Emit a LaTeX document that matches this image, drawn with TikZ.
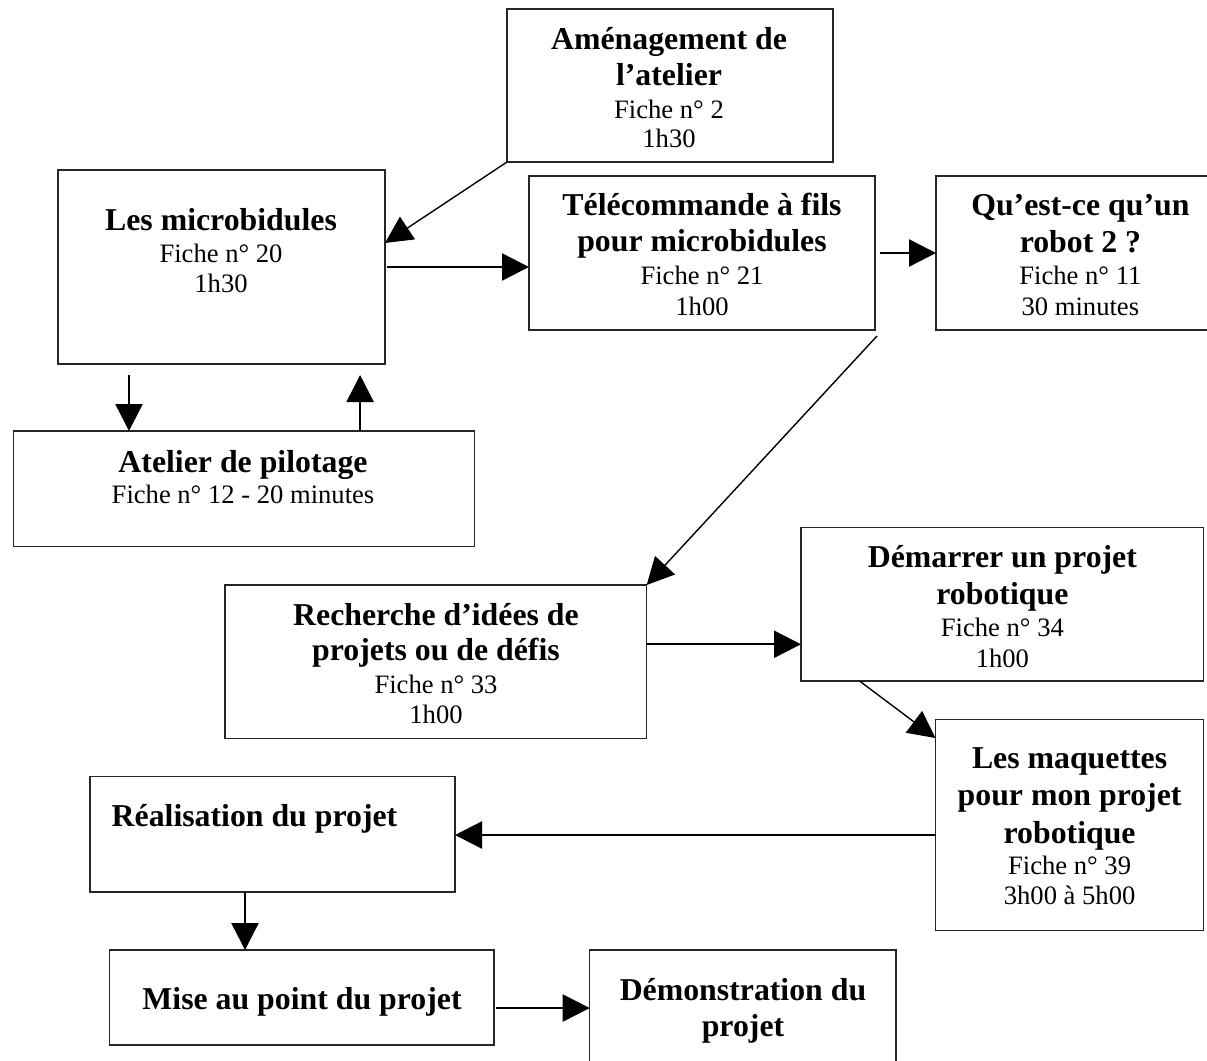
\documentclass[tikz,border=0pt]{standalone}
\usepackage{fontspec}
\setmainfont{Liberation Serif}
\usetikzlibrary{arrows.meta,calc}

% one centred line of bold title text (first line of a block)
\newcommand\tB[1]{\hbox to 0pt{\hss\fontsize{31.8}{37}\selectfont\bfseries #1\hss}}
% further bold line, #1 = distance between baselines
\newcommand\gB[2]{\baselineskip=#1pt\relax\tB{#2}}
% further regular line, #1 = distance between baselines
\newcommand\gR[2]{\baselineskip=#1pt\relax\hbox to 0pt{\hss\fontsize{26.6}{31}\selectfont #2\hss}}

\tikzset{
  box/.style={draw=black!85, line width=1.1pt, inner sep=0pt, outer sep=0pt, rectangle},
  txt/.style={anchor=base, inner sep=0pt, outer sep=0pt},
  arr/.style={line width=2.4pt, -{Triangle[length=27pt,width=27pt]}},
  tarr/.style={line width=1.4pt, -{Triangle[length=27pt,width=27pt]}},
}

\begin{document}
\begin{tikzpicture}[x=1pt,y=-1pt]
\useasboundingbox (0,0) rectangle (1207,1060);
\fill[white] (0,0) rectangle (1207,1060);
\clip (0,0) rectangle (1207,1060);

% boxes
\node[box, minimum width=326pt,   minimum height=153pt]   (amen)  at (670,85.5)      {};
\node[box, minimum width=327pt,   minimum height=194pt]   (micro) at (221.5,267)     {};
\node[box, minimum width=346pt,   minimum height=154pt]   (tele)  at (702,253)       {};
\node[box, minimum width=279pt,   minimum height=154pt]   (quest) at (1075.5,253)    {};
\node[box, minimum width=461pt,   minimum height=115.5pt] (atel)  at (244,488.75)    {};
\node[box, minimum width=421.7pt, minimum height=153.5pt] (rech)  at (435.85,661.75) {};
\node[box, minimum width=402.7pt, minimum height=153.4pt] (dem)   at (1002.35,604.3) {};
\node[box, minimum width=268.2pt, minimum height=210.8pt] (maq)   at (1069.6,825.1)  {};
\node[box, minimum width=365pt,   minimum height=115.5pt] (real)  at (272.5,834.25)  {};
\node[box, minimum width=384.5pt, minimum height=95pt]    (mise)  at (301.75,997.5)  {};
\node[box, minimum width=306.3pt, minimum height=130pt]   (demo)  at (742.85,1015)   {};

% texts
\node[txt] (amenT) at (669,49) {\vtop{\tB{Aménagement de}\gB{36}{l’atelier}\gR{33}{Fiche n° 2}\gR{29.5}{1h30}}};
\node[txt] (microT) at (221,230) {\vtop{\tB{Les microbidules}\gR{32.4}{Fiche n° 20}\gR{30.3}{1h30}}};
\node[txt] (teleT) at (702,215.2) {\vtop{\tB{Télécommande à fils}\gB{36.2}{pour microbidules}\gR{33}{Fiche n° 21}\gR{30.6}{1h00}}};
\node[txt] (questT) at (1080.4,215) {\vtop{\tB{Qu’est-ce qu’un}\gB{37.4}{robot 2 ?}\gR{32}{Fiche n° 11}\gR{30.6}{30 minutes}}};
\node[txt] (atelT) at (243,472.5) {\vtop{\tB{Atelier de pilotage}\gR{31}{Fiche n° 12 - 20 minutes}}};
\node[txt] (rechT) at (436,625) {\vtop{\tB{Recherche d’idées de}\gB{35.5}{projets ou de défis}\gR{32.7}{Fiche n° 33}\gR{30}{1h00}}};
\node[txt] (demT) at (1002.4,567.2) {\vtop{\tB{Démarrer un projet}\gB{37.2}{robotique}\gR{31.6}{Fiche n° 34}\gR{31}{1h00}}};
\node[txt] (maqT) at (1069.6,768.6) {\vtop{\tB{Les maquettes}\gB{37.2}{pour mon projet}\gB{37.2}{robotique}\gR{31.7}{Fiche n° 39}\gR{29.9}{3h00 à 5h00}}};
\node[txt] (realT) at (254.5,826.5) {\vtop{\tB{Réalisation du projet}}};
\node[txt] (miseT) at (302,1009) {\vtop{\tB{Mise au point du projet}}};
\node[txt] (demoT) at (743,1000.4) {\vtop{\tB{Démonstration du}\gB{36.1}{projet}}};

% connectors
\draw[tarr] (amen.south west) -- ($(micro.north east)!0.376!(micro.south east)$);
\draw[arr, shorten <=2pt] (micro.east) -- (micro.east -| tele.west);
\draw[arr, shorten <=5pt] (tele.east) -- (quest.west);
\draw[arr, shorten <=11pt] ([xshift=71pt]micro.south west) -- ([xshift=71pt]micro.south west |- atel.north);
\draw[arr, shorten >=11pt] ([xshift=346.6pt]atel.north west) -- ([xshift=346.6pt]atel.north west |- micro.south);
\coordinate (ts) at ($(tele.south east)+(2,6)$);
\draw[tarr] (ts) -- (rech.north east);
\coordinate (rr) at ($(rech.north east)!0.386!(rech.south east)$);
\draw[arr] (rr) -- (rr -| dem.west);
\draw[tarr] ($(dem.south west)!0.1455!(dem.south east)$) -- ($(maq.north west)!0.087!(maq.south west)$);
\coordinate (mq) at ($(maq.north west)!0.547!(maq.south west)$);
\draw[arr] (mq) -- (mq -| real.east);
\draw[arr] ([xshift=155pt]real.south west) -- ([xshift=155pt]real.south west |- mise.north);
\coordinate (me) at ($(mise.north east)!0.611!(mise.south east)$);
\draw[arr, shorten <=1.5pt] (me) -- (me -| demo.west);
\end{tikzpicture}
\end{document}
